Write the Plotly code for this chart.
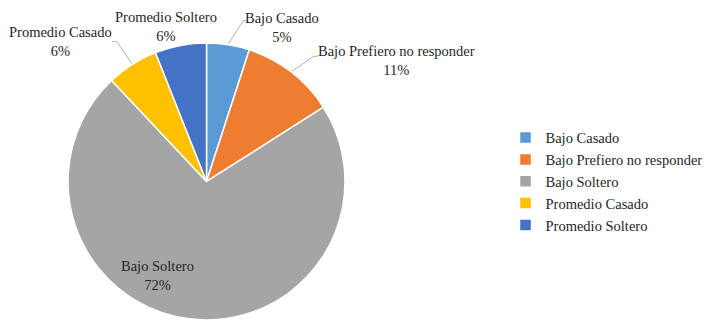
import math
import plotly.graph_objects as go

labels = ["Bajo Casado", "Bajo Prefiero no responder", "Bajo Soltero", "Promedio Casado", "Promedio Soltero"]
values = [5, 11, 72, 6, 6]
colors = ["#5B9BD5", "#ED7D31", "#A5A5A5", "#FFC000", "#4472C4"]

W, H = 713, 320
FONT = "Liberation Serif, 'Times New Roman', Times, serif"
FS = 14.5
TXT = "#262626"
dom_x = [0.0954, 0.4839]
dom_y = [0.0, 0.866]

fig = go.Figure(go.Pie(
    labels=labels,
    values=values,
    sort=False,
    direction="clockwise",
    rotation=0,
    marker=dict(colors=colors, line=dict(color="white", width=1.5)),
    textinfo="none",
    automargin=False,
    domain=dict(x=dom_x, y=dom_y),
    hoverinfo="label+percent",
))

# pie geometry in pixels (used to place the data labels)
cx = (dom_x[0] + dom_x[1]) / 2 * W
cy = (1 - (dom_y[0] + dom_y[1]) / 2) * H
r = min((dom_x[1] - dom_x[0]) * W, (dom_y[1] - dom_y[0]) * H) / 2

def paper(px, py):
    return px / W, 1 - py / H

# label placement (pixels): text-centre offset from slice rim point,
# leader elbow and end offsets from rim point (None = no leader)
text_off = [(54, -16), (104, -11), None, (-71, -22), (-14, -18)]
elbow_off = [((15, -23), (19, -23)), ((22, -15), (26, -15)), None,
             ((-15, -22), (-20, -22)), None]
inside_off = (-49.5, 94.5)  # from pie centre for the large slice

total = sum(values)
cum = 0
annotations, shapes = [], []
for lab, v, toff, eoff in zip(labels, values, text_off, elbow_off):
    mid = (cum + v / 2) / total * 2 * math.pi
    cum += v
    txt = f"{lab}<br>{round(v / total * 100)}%"
    rx = cx + (r + 1) * math.sin(mid)
    ry = cy - (r + 1) * math.cos(mid)
    if toff is None:
        tx, ty = paper(cx + inside_off[0], cy + inside_off[1])
    else:
        tx, ty = paper(rx + toff[0], ry + toff[1])
    annotations.append(dict(
        x=tx, y=ty, xref="paper", yref="paper", text=txt, showarrow=False,
        xanchor="center", yanchor="middle", align="center",
        font=dict(family=FONT, size=FS, color=TXT)))
    if eoff is not None:
        p0 = paper(rx, ry)
        p1 = paper(rx + eoff[0][0], ry + eoff[0][1])
        p2 = paper(rx + eoff[1][0], ry + eoff[1][1])
        shapes.append(dict(
            type="path", xref="paper", yref="paper",
            path=f"M {p0[0]},{p0[1]} L {p1[0]},{p1[1]} L {p2[0]},{p2[1]}",
            line=dict(color="#A6A6A6", width=0.9)))

fig.update_layout(
    width=W, height=H,
    margin=dict(l=0, r=0, t=0, b=0),
    paper_bgcolor="white",
    plot_bgcolor="white",
    font=dict(family=FONT, size=FS, color=TXT),
    annotations=annotations,
    shapes=shapes,
    legend=dict(x=0.709, y=0.62, xanchor="left", yanchor="top",
                font=dict(family=FONT, size=FS, color=TXT),
                itemwidth=30),
)

fig.write_html("out.html")
